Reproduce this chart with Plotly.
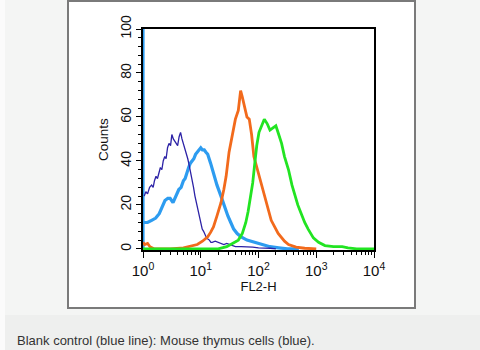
import plotly.graph_objects as go

# ---------------- data (FL2-H value, counts) ----------------
blank_x = [1.05, 1.12, 1.20, 1.30, 1.41, 1.50, 1.58, 1.68, 1.78, 1.90, 2.00, 2.12, 2.24, 2.38, 2.51, 2.66, 2.82, 3.00,
           3.16, 3.35, 3.55, 3.76, 3.98, 4.22, 4.47, 4.73, 5.01, 5.31, 5.62, 5.96, 6.31, 6.68, 7.08, 7.50, 7.94,
           8.41, 8.91, 9.44, 10.0, 10.6, 11.2, 11.9, 12.6, 13.3, 14.1, 15.0, 15.8, 17.8, 20.0, 22.4, 25.1, 28.2,
           31.6, 35.5, 39.8, 50.1, 63.1, 79.4, 100, 130, 160, 200]
blank_y = [24, 26, 25, 28, 29, 28, 31, 33, 32, 35, 37, 36, 40, 42, 41, 46, 48, 47,
           52, 50, 49, 48, 47, 51, 53, 50, 48, 46, 44, 41, 38, 35, 31, 28, 24,
           21, 17, 14, 12, 9, 8, 6, 5, 4.5, 4, 3, 3, 3.5, 3, 2.5, 2, 2.5,
           2, 1.5, 1, 1, 1, 0.8, 0.5, 0.5, 0.3, 0]

thymus_x = [1.0, 1.0, 1.0, 1.05, 1.20, 1.41, 1.66, 1.91, 2.14, 2.40, 2.69, 2.95, 3.31, 3.72, 4.17, 4.57, 5.01, 5.37,
            5.75, 6.17, 6.61, 7.08, 7.59, 8.13, 8.71, 9.33, 10.0, 10.7, 11.5, 12.3, 13.2, 14.8, 16.6, 19.1, 22.4,
            25.7, 29.5, 33.1, 37.2, 42.7, 50.1, 63.1, 83.2, 112, 158, 224, 316, 500]
thymus_y = [0, 110, 12, 12, 12, 13, 14, 16, 19, 22, 23, 23, 21, 24, 27, 28, 31, 32,
            35, 37, 39, 40, 41, 43, 44, 45, 46, 45, 45, 44, 43, 39, 34, 29, 24,
            19, 15, 12, 9, 7, 5.5, 4, 3, 2, 1, 0.5, 0, 0]

sampleA_x = [1.0, 1.07, 1.20, 1.32, 1.58, 3.0, 5.01, 6.31, 8.71, 10.7, 13.2, 14.8, 16.6, 19.1, 22.4, 25.1, 27.5,
             30.9, 35.5, 39.8, 44.7, 49.0, 52.5, 56.2, 63.1, 69.2, 75.9, 83.2, 95.5, 110, 135, 166, 219, 282,
             331, 447, 631, 1000]
sampleA_y = [3, 2, 2.5, 1, 0, 0, 0.5, 1, 2, 3.5, 5.5, 7.5, 10, 15, 21, 27, 33,
             44, 53, 59, 63, 72, 69, 66, 60, 59, 52, 42, 36, 30, 21, 13, 7, 3.5,
             2, 0.8, 0.3, 0]

sampleB_x = [1.0, 20.0, 28.2, 35.5, 44.7, 52.5, 60.3, 66.1, 72.4, 79.4, 87.1, 93.3, 102, 112, 126, 141, 158, 178,
             200, 224, 251, 282, 331, 380, 417, 479, 550, 631, 724, 891, 1096, 1413, 1995, 2818, 3548, 5012, 10000]
sampleB_y = [0, 0, 1, 2.5, 4, 7, 12, 17, 23, 30, 40, 47, 53, 56, 59, 57, 54, 55,
             56, 52, 48, 42, 36, 29, 25, 20, 16, 12, 9, 5, 3, 1.5, 1, 1, 0.5, 0, 0]

x_tick_vals = [1, 10, 100, 1000, 10000]
x_tick_text = ["10<sup>0</sup>", "10<sup>1</sup>", "10<sup>2</sup>", "10<sup>3</sup>", "10<sup>4</sup>"]
y_tick_vals = [0, 20, 40, 60, 80, 100]
y_tick_text = ["0", "20", "40", "60", "80", "100"]
caption = "Blank control (blue line): Mouse thymus cells (blue)."

# ---------------- figure ----------------
W, H = 480, 350
L, R, T, B = 143, 374, 29, 250


def px(x):
    return (x - L) / (R - L)


def py(y):
    return (B - y) / (B - T)


fig = go.Figure()
fig.add_trace(go.Scatter(x=thymus_x, y=thymus_y, mode="lines",
                         line=dict(color="#2d9cf0", width=3.2), showlegend=False))
fig.add_trace(go.Scatter(x=blank_x, y=blank_y, mode="lines",
                         line=dict(color="#2c22a6", width=1.3), showlegend=False))
fig.add_trace(go.Scatter(x=sampleA_x, y=sampleA_y, mode="lines",
                         line=dict(color="#f26a1c", width=2.8), showlegend=False))
fig.add_trace(go.Scatter(x=sampleB_x, y=sampleB_y, mode="lines",
                         line=dict(color="#22e422", width=2.8), showlegend=False))

font_fam = "Liberation Sans, Arial, Helvetica, sans-serif"

fig.update_layout(
    width=W, height=H,
    margin=dict(l=L, r=W - R, t=T, b=H - B, pad=0),
    paper_bgcolor="#f4f5f4",
    plot_bgcolor="white",
    font=dict(family=font_fam, color="#111"),
    xaxis=dict(
        type="log", range=[0, 4],
        tickvals=x_tick_vals, ticktext=x_tick_text,
        ticks="outside", ticklen=6, tickwidth=1.3, tickcolor="black",
        showline=True, linecolor="black", linewidth=1.6, mirror=True,
        showgrid=False, zeroline=False,
        tickfont=dict(size=15, color="#111"),
        minor=dict(ticks="outside", ticklen=3, tickwidth=1, tickcolor="black",
                   dtick="D1", showgrid=False),
        title=dict(text="FL2-H", font=dict(size=13, color="#111"), standoff=0),
    ),
    yaxis=dict(
        range=[-0.5, 100],
        tickvals=y_tick_vals, ticktext=y_tick_text, tickangle=-90,
        ticks="outside", ticklen=5, tickwidth=1.3, tickcolor="black",
        showline=True, linecolor="black", linewidth=1.6, mirror=True,
        showgrid=False, zeroline=False,
        tickfont=dict(size=14, color="#111"),
        minor=dict(ticks="outside", ticklen=3, tickwidth=1, tickcolor="black",
                   dtick=4, showgrid=False),
        title=dict(text="Counts", font=dict(size=13.5, color="#111"), standoff=6),
    ),
    shapes=[
        dict(type="rect", xref="paper", yref="paper", layer="below",
             x0=px(0), x1=px(W), y0=py(315), y1=py(H),
             fillcolor="#eeefee", line=dict(width=0)),
        dict(type="rect", xref="paper", yref="paper", layer="below",
             x0=px(0), x1=px(5), y0=py(0), y1=py(H),
             fillcolor="#fbfbfb", line=dict(width=0)),
        dict(type="rect", xref="paper", yref="paper", layer="below",
             x0=px(68), x1=px(415), y0=py(1), y1=py(308),
             fillcolor="white", line=dict(color="#7a7a7a", width=2)),
    ],
    annotations=[
        dict(xref="paper", yref="paper", x=px(15), y=py(340), xanchor="left", yanchor="middle",
             text=caption, showarrow=False,
             font=dict(family=font_fam, size=13, color="#333")),
    ],
)

fig.write_html("out.html")
